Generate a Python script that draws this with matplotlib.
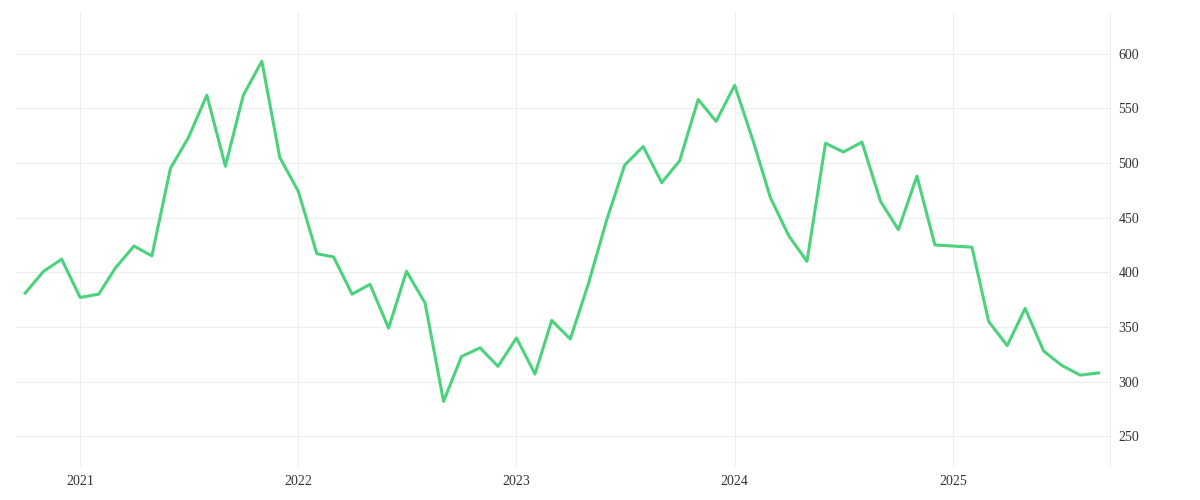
import matplotlib
matplotlib.use("Agg")
import matplotlib.pyplot as plt
import matplotlib.dates as mdates
import pandas as pd

months = pd.date_range("2020-10-01", "2025-09-01", freq="MS")
values = [381, 401, 412, 377, 380, 404, 424, 415, 495, 523, 562, 497,
          562, 593, 505, 474, 417, 414, 380, 389, 349, 401, 372, 282,
          323, 331, 314, 340, 307, 356, 339, 389, 448, 498, 515, 482,
          502, 558, 538, 571, 520, 468, 433, 410, 518, 510, 519, 465,
          439, 488, 425, 424, 423, 355, 333, 367, 328, 315, 306, 308]
yticks = [250, 300, 350, 400, 450, 500, 550, 600]
years = ["2021", "2022", "2023", "2024", "2025"]

plt.rcParams['font.family'] = ['Liberation Serif', 'DejaVu Serif']
fig = plt.figure(figsize=(12, 5), dpi=100)
ax = fig.add_axes([0.013, 0.066, 0.912, 0.91])
ax.plot(months, values, color="#4cd27c", lw=2.2)
ax.set_ylim(222, 638)
ax.set_xlim(pd.Timestamp("2020-09-15"), pd.Timestamp("2025-09-20"))
ax.set_yticks(yticks)
ax.set_xticks([pd.Timestamp(f"{y}-01-01") for y in years])
ax.set_xticklabels(years)
ax.yaxis.tick_right()
ax.grid(True, color="#eeeeee", lw=0.8)
for s in ["top", "left", "bottom"]:
    ax.spines[s].set_visible(False)
ax.spines["right"].set_color("#eeeeee")
ax.tick_params(length=0, labelsize=10, colors="#333333", pad=6)
fig.savefig("out.png")
